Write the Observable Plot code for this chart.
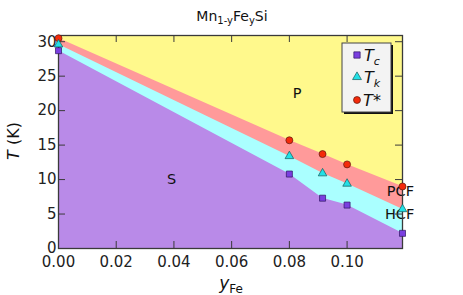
<!DOCTYPE html>
<html>
<head>
<meta charset="utf-8">
<script src="https://cdn.jsdelivr.net/npm/d3@7"></script>
<script src="https://cdn.jsdelivr.net/npm/@observablehq/plot@0.6"></script>
<style>
  html, body { margin: 0; padding: 0; background: #fff; }
  #chart { width: 463px; height: 295px; }
</style>
</head>
<body>
<div id="chart"></div>
<script>
// ---- data ----
const yFe   = [0, 0.08, 0.0915, 0.1, 0.1192];
const Tc    = [28.7, 10.8, 7.3, 6.3, 2.2];
const Tk    = [29.6, 13.4, 10.9, 9.4, 5.7];
const Tstar = [30.5, 15.7, 13.7, 12.2, 9.0];

const xTicks = [0, 0.02, 0.04, 0.06, 0.08, 0.10];
const yTicks = [0, 5, 10, 15, 20, 25, 30];

const regionNames = ["P", "S", "PCF", "HCF"];
const regionX     = [0.0827, 0.0392, 0.1185, 0.1182];
const regionT     = [22.5, 10.1, 8.3, 4.9];
const regionAnchor = ["middle", "middle", "end", "end"];

const seriesNames = ["Tc", "Tk", "T*"];

// ---- build rows ----
const rows = yFe.map((y, i) => ({y, Tc: Tc[i], Tk: Tk[i], Tstar: Tstar[i]}));
const regions = regionNames.map((n, i) => ({name: n, x: regionX[i], T: regionT[i], anchor: regionAnchor[i]}));

const W = 463, H = 295, mL = 58, mR = 61, mT = 35, mB = 47;
const plotW = W - mL - mR, plotH = H - mT - mB;
const FONT = "DejaVu Sans";
const cYellow = "#fff98c", cRed = "#ff9a9a", cCyan = "#aaffff", cPurple = "#b98ae8";
const mPurple = "#7a3ee0", mCyan = "#22e0e6", mRed = "#f42a0a";
const axisCol = "#3a3a3a";

const chart = Plot.plot({
  width: W, height: H,
  marginLeft: mL, marginRight: mR, marginTop: mT, marginBottom: mB,
  style: {fontFamily: FONT, fontSize: "15px", background: "#fff", color: "#222"},
  x: {domain: [0, 0.1192]},
  y: {domain: [0, 30.9]},
  marks: [
    Plot.frame({fill: cYellow, stroke: null}),
    Plot.areaY(rows, {x: "y", y: "Tstar", fill: cRed}),
    Plot.areaY(rows, {x: "y", y: "Tk", fill: cCyan}),
    Plot.areaY(rows, {x: "y", y: "Tc", fill: cPurple}),
    Plot.text(regions, {x: "x", y: "T", text: "name", textAnchor: d => d.anchor, fontSize: 14.5, fontFamily: FONT, fill: "#111"}),
    // inward ticks on all four sides
    Plot.ruleX(xTicks, {x: d => d, insetTop: plotH - 7, stroke: axisCol}),
    Plot.ruleX(xTicks, {x: d => d, insetBottom: plotH - 7, stroke: axisCol}),
    Plot.ruleY(yTicks, {y: d => d, insetRight: plotW - 7, stroke: axisCol}),
    Plot.ruleY(yTicks, {y: d => d, insetLeft: plotW - 7, stroke: axisCol}),
    Plot.frame({stroke: axisCol, strokeWidth: 1.3}),
    Plot.axisX(xTicks, {tickSize: 0, tickPadding: 8, tickFormat: d3.format(".2f"), label: null, fontSize: 15}),
    Plot.axisY(yTicks, {tickSize: 0, tickPadding: 2, label: null, fontSize: 15}),
    Plot.dot(rows, {x: "y", y: "Tstar", symbol: "circle", r: 3.5, fill: mRed, stroke: "#5a1a10", strokeWidth: 0.7}),
    Plot.dot(rows, {x: "y", y: "Tk", symbol: "triangle", r: 3.2, fill: mCyan, stroke: "#115a5a", strokeWidth: 0.7}),
    Plot.dot(rows, {x: "y", y: "Tc", symbol: "square", r: 3.4, fill: mPurple, stroke: "#2e1660", strokeWidth: 0.7})
  ]
});

document.getElementById("chart").appendChild(chart);

// ---- title, axis labels and legend added to the same SVG ----
const svg = d3.select(chart);

// title Mn_{1-y}Fe_{y}Si
const title = svg.append("text")
  .attr("x", 232).attr("y", 21)
  .attr("text-anchor", "middle")
  .attr("font-family", FONT).attr("font-size", 14).attr("fill", "#111");
title.append("tspan").text("Mn");
title.append("tspan").attr("font-size", 10).attr("dy", 3).text("1-y");
title.append("tspan").attr("dy", -3).text("Fe");
title.append("tspan").attr("font-size", 10).attr("dy", 3).text("y");
title.append("tspan").attr("dy", -3).text("Si");

// y label  T (K)
const yl = svg.append("text")
  .attr("transform", "translate(19,141) rotate(-90)")
  .attr("text-anchor", "middle")
  .attr("font-family", FONT).attr("font-size", 16).attr("fill", "#111");
yl.append("tspan").attr("font-style", "italic").text("T");
yl.append("tspan").text(" (K)");

// x label  y_Fe
const xl = svg.append("text")
  .attr("x", 231).attr("y", 289)
  .attr("text-anchor", "middle")
  .attr("font-family", FONT).attr("font-size", 17).attr("fill", "#111");
xl.append("tspan").attr("font-style", "italic").text("y");
xl.append("tspan").attr("font-size", 12).attr("dy", 4).text("Fe");

// legend
const lg = svg.append("g").attr("font-family", FONT);
lg.append("rect").attr("x", 344).attr("y", 45).attr("width", 49).attr("height", 69).attr("fill", "#111");
lg.append("rect").attr("x", 342).attr("y", 43).attr("width", 49).attr("height", 69)
  .attr("fill", "#f3f3f3").attr("stroke", "#444").attr("stroke-width", 1);
const symX = 357, symY = [55, 77, 100];
const sym = [
  {type: d3.symbolSquare, fill: mPurple, stroke: "#2e1660", size: 40},
  {type: d3.symbolTriangle, fill: mCyan, stroke: "#115a5a", size: 34},
  {type: d3.symbolCircle, fill: mRed, stroke: "#5a1a10", size: 38}
];
seriesNames.forEach((name, i) => {
  lg.append("path")
    .attr("transform", `translate(${symX},${symY[i]})`)
    .attr("d", d3.symbol(sym[i].type, sym[i].size)())
    .attr("fill", sym[i].fill).attr("stroke", sym[i].stroke).attr("stroke-width", 0.7);
  const t = lg.append("text").attr("x", 372).attr("y", symY[i] + 6)
    .attr("font-size", 16).attr("font-style", "italic").attr("fill", "#111");
  t.append("tspan").text(name[0]);
  if (name[1] === "*") t.append("tspan").text("*");
  else t.append("tspan").attr("font-size", 11).attr("dy", 4).text(name[1]);
});
</script>
</body>
</html>
